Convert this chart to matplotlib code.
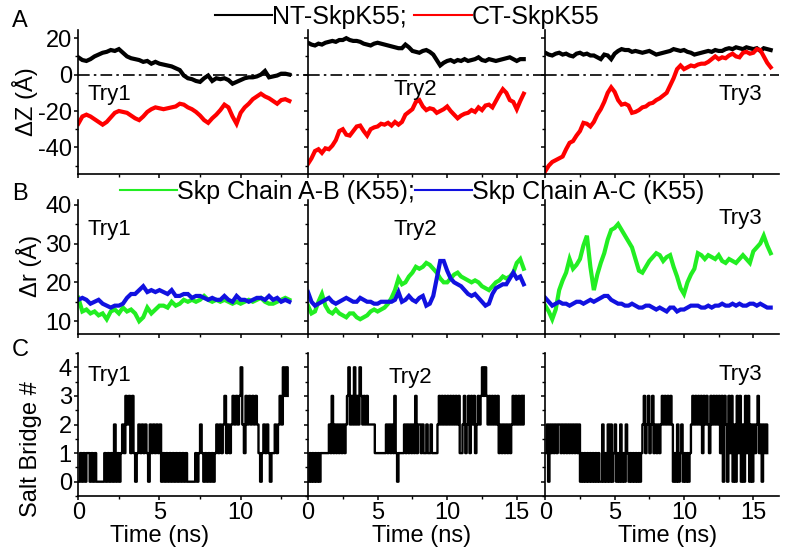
import numpy as np
import matplotlib
matplotlib.use('Agg')
import matplotlib.pyplot as plt
from matplotlib.ticker import MultipleLocator, NullFormatter
from matplotlib.lines import Line2D

plt.rcParams['font.family'] = ['Liberation Sans', 'DejaVu Sans']
plt.rcParams['axes.unicode_minus'] = False

# ---------------- data ----------------
DT = 0.25      # ns between samples in rows A and B
DT_SB = 0.1    # ns between samples in row C

tries = ["Try1", "Try2", "Try3"]
legend_A = ["NT-SkpK55;", "CT-SkpK55"]
legend_B = ["Skp Chain A-B (K55);", "Skp Chain A-C (K55)"]

dz_nt_try1 = [9.5, 8, 7.5, 8.5, 10, 11, 12, 12.5, 13.5, 13, 14, 12, 10, 9, 8.5, 8, 7, 7.5, 6, 7, 6, 5.5, 5, 4.5,
              3.5, 2.5, -0.5, -2, -2.5, -3.5, -4, -2, -0.5, -3.5, -2, -2.5, -2, -3, -5, -4, -3, -2, -1.5, -1.5,
              -1, 0, 2, -1.5, -1, -0.5, 0.5, 0.5, 0]
dz_ct_try1 = [-27, -23, -22, -23, -24.5, -26, -27.5, -26, -23.5, -21, -20, -20.5, -21, -22.5, -24, -25, -23, -20.5,
              -19, -18, -18.5, -19, -18.5, -18, -17.5, -16, -16.5, -18, -19, -20.5, -22.5, -25, -26.5, -24, -22,
              -19.5, -16.5, -18, -23, -27, -21, -18, -16, -13.5, -12, -10.5, -12, -13, -14.5, -16, -14, -13.5, -14.5]
dz_nt_try2 = [17.5, 16.5, 16, 17, 16.5, 17.5, 18, 18.5, 18, 19, 19, 20, 19, 18.5, 18.5, 18, 17, 16.5, 16, 17, 17.5,
              17, 16.5, 16, 15.5, 15, 14.5, 14.5, 16.5, 15, 13, 12.5, 12, 13, 13.5, 12.5, 11, 8, 5, 6.5, 7.5, 8, 7,
              8, 7.5, 8.5, 7.5, 8, 8.5, 9.5, 8, 7.5, 8.5, 8, 7.5, 8, 8.5, 9, 9.5, 8.5, 7.5, 8.5, 8.5]
dz_ct_try2 = [-49, -46, -42, -41, -43, -40.5, -41, -39, -36, -31, -30, -33, -33.5, -31, -28.5, -28, -31, -33.5, -30,
              -29, -28.5, -27, -27.5, -26.5, -28, -26, -27.5, -26, -22, -20.5, -19, -15, -14, -17.5, -19.5, -18.5,
              -19, -21, -20, -19, -17.5, -20, -22, -24, -22.5, -21.5, -21, -19.5, -20.5, -18, -19.5, -17, -16.5,
              -18, -14.5, -11, -8, -10, -14, -15, -19, -14.5, -10.5]
dz_nt_try3 = [12, 11, 10.5, 11.5, 12, 11, 11.5, 10.5, 10, 11.5, 12, 11, 11.5, 10.5, 10.5, 9.5, 8.5, 11, 10.5, 8.5,
              11.5, 13, 14, 13.5, 13.5, 12.5, 13, 12.5, 12, 12.5, 13, 12, 11, 11.5, 12, 12.5, 13, 14, 13.5, 13,
              13.5, 12.5, 12, 11, 11.5, 12, 12.5, 13, 12.5, 13.5, 13, 13, 14, 14.5, 14, 15, 14.5, 14, 15, 14.5,
              14, 14.5, 13, 14.5, 14, 13.5]
dz_ct_try3 = [-53, -50, -48, -47, -46, -45, -41, -37.5, -36.5, -33.5, -31, -26.5, -27, -28.5, -26, -22, -19, -15,
              -10, -7, -9.5, -14, -16.5, -16, -17, -21, -20.5, -19.5, -18, -17.5, -16, -15.5, -14, -13, -11.5, -10,
              -6, -2, 3, 5, 3, 4, 5, 4.5, 5.5, 6, 6, 7, 8.5, 10, 8.5, 9.5, 9, 10.5, 11.5, 10, 9.5, 12, 12.5, 11.5,
              12, 14, 13.5, 10, 6.5, 4]

dr_ab_try1 = [16, 12.5, 13, 12, 12.5, 11.5, 12, 10.5, 12.5, 13, 12, 13.5, 12.5, 13, 12, 10, 11, 13.5, 12, 13, 14,
              14, 13.5, 15, 14, 14.5, 15.5, 15, 15.5, 15, 15.5, 16.5, 15.5, 15, 15.5, 15, 15.5, 15, 14.5, 15, 14.5,
              15, 15.5, 15, 15.5, 16, 15, 14.5, 14.5, 15, 15.5, 16, 15.5]
dr_ac_try1 = [15.5, 16, 15.5, 14.5, 15, 15.5, 14.5, 14, 13.5, 14, 14, 14.5, 16, 17, 17, 18, 19, 17.5, 18, 17.5, 18,
              17.5, 17, 18, 16.5, 16.5, 17, 17, 16, 16.5, 16.5, 16, 15.5, 16, 15.5, 15.5, 16.5, 15.5, 15, 16.5, 15.5,
              15.5, 15, 15.5, 16, 16, 15.5, 16.5, 15.5, 16, 15, 15.5, 15]
dr_ab_try2 = [14, 12, 12.5, 15, 17, 14, 12.5, 12, 13, 12, 11.5, 11, 12, 12, 11, 10.5, 11, 11.5, 12.5, 13, 12.5, 13,
              13.5, 14.5, 16, 18, 21, 19.5, 20, 21.5, 22.5, 24, 23.5, 24, 25, 24.5, 23.5, 22.5, 21, 20, 20, 21, 22,
              22.5, 21.5, 21, 20.5, 20, 20.5, 20, 19, 18.5, 18, 19, 20, 20.5, 21.5, 21, 21.5, 22.5, 25, 26, 23.5]
dr_ac_try2 = [17.5, 15, 14, 14.5, 15, 15.5, 16, 15, 14.5, 15, 15.5, 16, 15.5, 15, 15, 16, 15.5, 15, 15, 14.5, 14.5,
              15, 15, 15, 15, 15.5, 17.5, 15, 15.5, 16.5, 15.5, 15, 16, 16.5, 14, 14.5, 16.5, 21, 25.5, 25.5, 23,
              21, 20, 19.5, 19, 18, 17, 16.5, 17, 16, 15, 14, 14.5, 17, 18.5, 19, 19.5, 19.5, 21, 22.5, 21, 21.5, 19.5]
dr_ab_try3 = [14, 12.5, 10.5, 13, 18, 20.5, 22.5, 26, 23.5, 24.5, 26, 29.5, 32, 24, 18, 22, 25, 27.5, 31, 33.5, 34,
              35, 33.5, 32, 30.5, 29, 26, 23, 22.5, 24, 25.5, 26.5, 27.5, 27, 25.5, 26.5, 27, 24, 21.5, 18.5, 17,
              20, 22, 23.5, 27.5, 27, 26, 27, 26.5, 26, 27, 25.5, 25, 26, 25.5, 25, 26, 27, 26, 25, 28, 29, 30, 32,
              29.5, 27.5]
dr_ac_try3 = [16, 15, 14, 14.5, 15, 14.5, 14.5, 14, 14.5, 15, 15, 14.5, 15, 15.5, 15, 15.5, 16, 16.5, 16.5, 15.5,
              15, 14.5, 14.5, 14, 14, 14.5, 14, 13.5, 13.5, 14, 14, 13.5, 13, 13.5, 13, 12.5, 13.5, 13.5, 12.5, 13,
              13, 13.5, 14, 14, 14, 13.5, 13.5, 14, 13.5, 14, 14, 14.5, 14, 14, 14.5, 14, 14.5, 14, 14, 14.5, 14.5,
              14, 14.5, 14, 13.5, 13.5]

# salt bridge counts, one digit per 0.1 ns
sb_try1 = ("0101011010" "1000001010" "1020101213" "2313101212" "1210212121" "2010101010" "1010101000"
           "0010121010" "1010121212" "3121232323" "4213232323" "2101212101" "1212324343")
sb_try2 = ("0101010101" "1111121312" "1212121234" "2324232432" "3232222211" "1111112121" "2131011112"
           "1212121312" "2121121121" "1112323232" "3232323231" "1231231323" "1232343432" "3232323121"
           "2121212323" "232323")
sb_try3 = ("1202121212" "2121212121" "2121201010" "1010101010" "0201020201" "2010201021" "0101010101"
           "2312312312" "1212323232" "3201020120" "1010123232" "3231323213" "2323231303" "2031302031"
           "3020313020" "21231202121")

dz_nt = [dz_nt_try1, dz_nt_try2, dz_nt_try3]
dz_ct = [dz_ct_try1, dz_ct_try2, dz_ct_try3]
dr_ab = [dr_ab_try1, dr_ab_try2, dr_ab_try3]
dr_ac = [dr_ac_try1, dr_ac_try2, dr_ac_try3]
sb = [sb_try1, sb_try2, sb_try3]

# ---------------- layout ----------------
W, H = 793, 557
fig = plt.figure(figsize=(W / 100, H / 100), dpi=100)

col_px = [(78.3, 308.0), (308.0, 545.3), (545.3, 779.0)]
row_px = [(30.0, 174.0), (200.0, 334.0), (353.0, 496.0)]
xlims = [14.15, 17.05, 16.85]
ylims = [(-54.6, 24.5), (6.7, 41.2), (-0.5, 4.5)]
ymaj = [20, 10, 1]
ymin = [10, 5, 0.5]

BLACK = '#000000'
RED = '#ff0000'
GREEN = '#22ee22'
BLUE = '#1111e0'
LW = 3.0

TICK_FS = 17
axes = [[None] * 3 for _ in range(3)]
for r in range(3):
    for c in range(3):
        x0, x1 = col_px[c]
        y0, y1 = row_px[r]
        ax = fig.add_axes([x0 / W, 1 - y1 / H, (x1 - x0) / W, (y1 - y0) / H])
        axes[r][c] = ax
        for s in ['top', 'right']:
            ax.spines[s].set_visible(False)
        for s in ['left', 'bottom']:
            ax.spines[s].set_linewidth(1.2)
        ax.set_xlim(0, xlims[c])
        ax.set_ylim(*ylims[r])
        ax.xaxis.set_major_locator(MultipleLocator(5))
        ax.xaxis.set_minor_locator(MultipleLocator(2.5))
        ax.yaxis.set_major_locator(MultipleLocator(ymaj[r]))
        ax.yaxis.set_minor_locator(MultipleLocator(ymin[r]))
        ax.tick_params(which='major', direction='out', length=3.2, width=1.1, labelsize=TICK_FS, pad=1.5)
        ax.tick_params(which='minor', direction='out', length=2.2, width=1.0)
        ax.tick_params(axis='x', pad=1.0)
        if r < 2:
            ax.xaxis.set_major_formatter(NullFormatter())
        if c > 0:
            ax.yaxis.set_major_formatter(NullFormatter())
        ax.patch.set_alpha(0)

# Row A
for c in range(3):
    ax = axes[0][c]
    ax.axhline(0, color='k', lw=1.2, ls=(0, (7, 2.5, 1.5, 2.5)))
    t = np.arange(len(dz_nt[c])) * DT
    ax.plot(t, dz_nt[c], color=BLACK, lw=LW, solid_joinstyle='miter')
    t = np.arange(len(dz_ct[c])) * DT
    ax.plot(t, dz_ct[c], color=RED, lw=LW, solid_joinstyle='miter')

# Row B
for c in range(3):
    ax = axes[1][c]
    t = np.arange(len(dr_ab[c])) * DT
    ax.plot(t, dr_ab[c], color=GREEN, lw=LW, solid_joinstyle='miter')
    t = np.arange(len(dr_ac[c])) * DT
    ax.plot(t, dr_ac[c], color=BLUE, lw=LW, solid_joinstyle='miter')

# Row C
for c in range(3):
    ax = axes[2][c]
    vals = [int(ch) for ch in sb[c]]
    t = np.arange(len(vals)) * DT_SB
    ln, = ax.step(t, vals, where='post', color='k', lw=1.7)
    ln.set_snap(False)

# Try labels (axes fraction)
try_pos = [
    [(0.04, 0.55), (0.36, 0.59), (0.74, 0.55)],
    [(0.04, 0.78), (0.36, 0.78), (0.74, 0.86)],
    [(0.04, 0.84), (0.34, 0.83), (0.74, 0.85)],
]
for r in range(3):
    for c in range(3):
        x, y = try_pos[r][c]
        axes[r][c].text(x, y, tries[c], transform=axes[r][c].transAxes, fontsize=16,
                        ha='left', va='center')

# axis labels
ylabels = ["ΔZ (Å)", "Δr (Å)", "Salt Bridge #"]
ylab_coords = [(-0.175, 0.5), (-0.157, 0.51), (-0.158, 0.33)]
for r in range(3):
    axes[r][0].set_ylabel(ylabels[r], fontsize=17)
    axes[r][0].yaxis.set_label_coords(*ylab_coords[r])

xlab_x = [0.355, 0.477, 0.525]
for c in range(3):
    axes[2][c].set_xlabel("Time (ns)", fontsize=17)
    axes[2][c].xaxis.set_label_coords(xlab_x[c], -0.205)

# panel letters
for letter, ypx in zip("ABC", [21, 194, 350]):
    fig.text(20 / W, 1 - ypx / H, letter, fontsize=17, ha='center', va='center')

# legends
hA = [Line2D([], [], color=BLACK, lw=1.5), Line2D([], [], color=RED, lw=1.5)]
fig.legend(hA, legend_A, loc='center', bbox_to_anchor=(407 / W, 1 - 17 / H), ncol=2, frameon=False,
           fontsize=18, handlelength=2.3, handletextpad=0.0, columnspacing=0.3, borderpad=0, borderaxespad=0)
hB = [Line2D([], [], color=GREEN, lw=1.5), Line2D([], [], color=BLUE, lw=1.5)]
fig.legend(hB, legend_B, loc='center', bbox_to_anchor=(412 / W, 1 - 192 / H), ncol=2, frameon=False,
           fontsize=18, handlelength=2.3, handletextpad=0.0, columnspacing=0.0, borderpad=0, borderaxespad=0)

fig.savefig('out.png', dpi=100)
